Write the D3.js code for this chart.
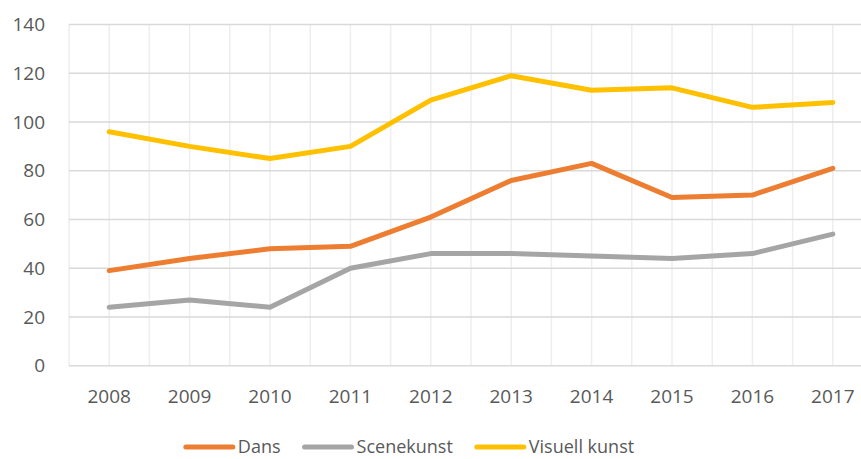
<!DOCTYPE html>
<html>
<head>
<meta charset="utf-8">
<script src="https://cdn.jsdelivr.net/npm/d3@7"></script>
<style>
  body { margin: 0; background: #fff; }
  text { font-family: "Open Sans", sans-serif; fill: #595959; }
</style>
</head>
<body>
<svg id="chart"></svg>
<script>
let w = 861;
let h = 459;

// data
let years = ['2008', '2009', '2010', '2011', '2012', '2013', '2014', '2015', '2016', '2017'];
let dans = [39, 44, 48, 49, 61, 76, 83, 69, 70, 81];
let scenekunst = [24, 27, 24, 40, 46, 46, 45, 44, 46, 54];
let visuellKunst = [96, 90, 85, 90, 109, 119, 113, 114, 106, 108];
let yTicks = [0, 20, 40, 60, 80, 100, 120, 140];
let seriesNames = ['Dans', 'Scenekunst', 'Visuell kunst'];
let seriesColors = ['#ED7D31', '#A5A5A5', '#FFC000'];

let series = [dans, scenekunst, visuellKunst].map((vals, i) => ({
    name: seriesNames[i],
    color: seriesColors[i],
    values: vals.map((v, j) => ({ year: years[j], value: v }))
}));

let svg = d3.select('#chart')
    .attr('width', w)
    .attr('height', h);

let xScale = d3.scaleBand()
    .domain(years)
    .range([69, 873]);

let yScale = d3.scaleLinear()
    .domain([0, 140])
    .range([365.7, 24.5]);

//vertical gridlines: band edges and centers
let vLines = [];
years.forEach(y => {
    vLines.push(xScale(y));
    vLines.push(xScale(y) + xScale.bandwidth() / 2);
});
vLines.push(xScale.range()[1]);

svg.append('g')
    .selectAll('line')
    .data(vLines)
    .enter()
    .append('line')
        .attr('x1', d => d)
        .attr('x2', d => d)
        .attr('y1', yScale(140))
        .attr('y2', yScale(0))
        .style('stroke', '#EEEEEE')
        .style('stroke-width', 1.5);

//horizontal gridlines
svg.append('g')
    .selectAll('line')
    .data(yTicks)
    .enter()
    .append('line')
        .attr('x1', xScale.range()[0])
        .attr('x2', xScale.range()[1])
        .attr('y1', d => yScale(d))
        .attr('y2', d => yScale(d))
        .style('stroke', '#D9D9D9')
        .style('stroke-width', 1.5);

//y labels
svg.append('g')
    .selectAll('text')
    .data(yTicks)
    .enter()
    .append('text')
        .attr('x', 45)
        .attr('y', d => yScale(d))
        .attr('dy', '0.35em')
        .attr('text-anchor', 'end')
        .style('font-size', '19px')
        .text(d => d);

//x labels
svg.append('g')
    .selectAll('text')
    .data(years)
    .enter()
    .append('text')
        .attr('x', d => xScale(d) + xScale.bandwidth() / 2)
        .attr('y', 396)
        .attr('dy', '0.35em')
        .attr('text-anchor', 'middle')
        .style('font-size', '19px')
        .text(d => d);

//lines
let line = d3.line()
    .x(d => xScale(d.year) + xScale.bandwidth() / 2)
    .y(d => yScale(d.value));

svg.append('g')
    .selectAll('path')
    .data(series)
    .enter()
    .append('path')
        .attr('d', d => line(d.values))
        .style('fill', 'none')
        .style('stroke', d => d.color)
        .style('stroke-width', 5)
        .style('stroke-linejoin', 'round')
        .style('stroke-linecap', 'round');

//legend
let legend = svg.append('g');
let items = legend.selectAll('g')
    .data(series)
    .enter()
    .append('g');

items.append('line')
    .attr('x1', 0)
    .attr('x2', 47)
    .attr('y1', 0)
    .attr('y2', 0)
    .style('stroke', d => d.color)
    .style('stroke-width', 5)
    .style('stroke-linecap', 'round');

items.append('text')
    .attr('x', 52)
    .attr('y', 0)
    .attr('dy', '0.35em')
    .style('font-size', '18px')
    .text(d => d.name);

let xPos = 0;
items.each(function() {
    let tw = d3.select(this).select('text').node().getComputedTextLength();
    d3.select(this).attr('transform', `translate(${xPos}, 447)`);
    xPos += 52 + tw + 24;
});
let totalW = xPos - 24;
legend.attr('transform', `translate(${410 - totalW / 2}, 0)`);
</script>
</body>
</html>
